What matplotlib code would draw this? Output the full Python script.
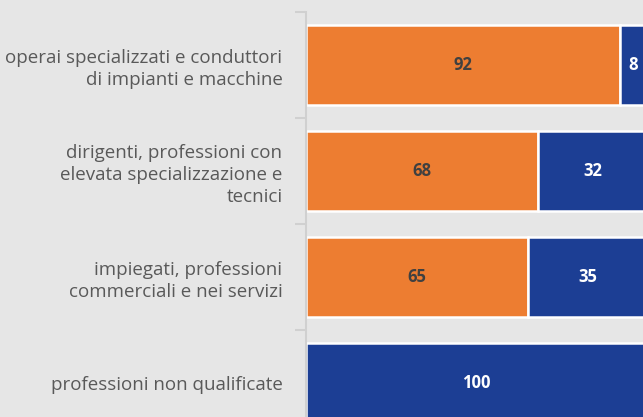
import matplotlib.pyplot as plt

BG = "#E6E6E6"
ORANGE = "#ED7D31"
BLUE = "#1C3E94"
LABEL = "#595959"

categories = [
    "operai specializzati e conduttori\ndi impianti e macchine",
    "dirigenti, professioni con\nelevata specializzazione e\ntecnici",
    "impiegati, professioni\ncommerciali e nei servizi",
    "professioni non qualificate",
]
orange_vals = [92, 68, 65, 0]
blue_vals = [8, 32, 35, 100]

plt.rcParams["font.family"] = ["Open Sans", "DejaVu Sans"]

fig = plt.figure(figsize=(6.43, 4.17), dpi=100, facecolor=BG)
ax = fig.add_axes([306 / 643, 0, 1 - 306 / 643, 1 - 12 / 417])
ax.set_facecolor(BG)

y = list(range(len(categories)))
ax.barh(y, orange_vals, height=0.76, color=ORANGE, edgecolor="white", linewidth=1.8)
ax.barh(y, blue_vals, left=orange_vals, height=0.76, color=BLUE, edgecolor="white", linewidth=1.8)

for i, (o, b) in enumerate(zip(orange_vals, blue_vals)):
    if o:
        ax.text(o / 2, i, f"{o}", ha="center", va="center", fontsize=12,
                fontweight="bold", color="#404040")
    if b:
        ax.text(o + b / 2, i, f"{b}", ha="center", va="center", fontsize=12,
                fontweight="bold", color="white")

ax.set_xlim(0, 98.8)
ax.set_ylim(3.32, -0.5)

for s in ("top", "right", "bottom"):
    ax.spines[s].set_visible(False)
ax.spines["left"].set_color("#D0D0D0")
ax.spines["left"].set_linewidth(1.5)

ax.set_xticks([])
ax.set_yticks(y)
ax.set_yticklabels(categories, fontsize=13.5, color=LABEL, linespacing=1.3)
ax.tick_params(axis="y", which="major", length=0, pad=17)
ax.set_yticks([-0.5, 0.5, 1.5, 2.5], minor=True)
ax.tick_params(axis="y", which="minor", length=8, width=1.5, color="#D0D0D0")

fig.savefig("out.png", facecolor=BG)
